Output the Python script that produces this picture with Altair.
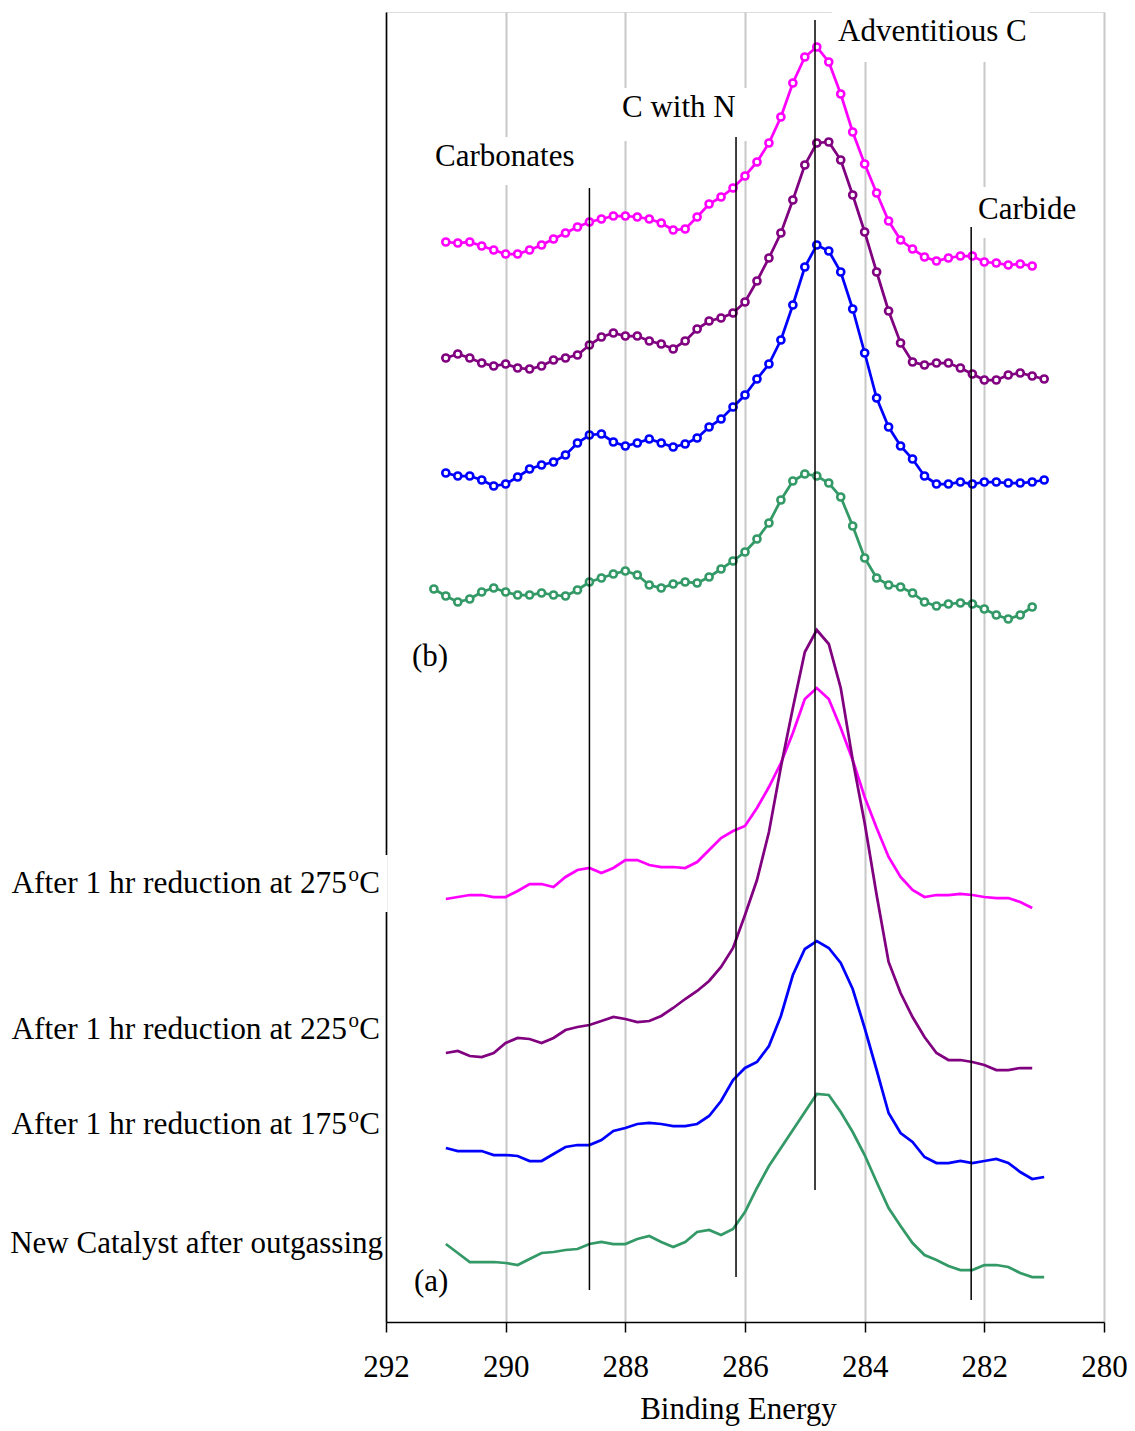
import altair as alt
import pandas as pd

# ---------------- data (intensity in arbitrary units) ----------------
STEP = 0.2  # eV spacing of the measured points

# (b) spectra - with open-circle markers
b_275_start = 291.0
b_275 = [1080, 1079, 1080, 1076, 1072, 1068, 1068, 1072, 1077, 1083,
         1089, 1095, 1100, 1103, 1106, 1106, 1105, 1103, 1099, 1092,
         1093, 1105, 1118, 1125, 1134, 1146, 1160, 1179, 1205, 1239,
         1265, 1275, 1260, 1228, 1190, 1158, 1129, 1101, 1082, 1073,
         1065, 1061, 1064, 1066, 1066, 1060, 1059, 1057, 1058, 1056]
b_225_start = 291.0
b_225 = [964, 968, 964, 959, 956, 958, 954, 953, 956, 962,
         964, 967, 977, 985, 989, 986, 986, 981, 978, 973,
         981, 993, 1001, 1004, 1009, 1020, 1041, 1064, 1089, 1122,
         1157, 1179, 1180, 1162, 1127, 1090, 1050, 1011, 979, 960,
         957, 959, 959, 954, 948, 942, 942, 947, 949, 946, 943]
b_175_start = 291.0
b_175 = [849, 846, 846, 842, 836, 838, 845, 853, 857, 860,
         867, 879, 887, 888, 880, 876, 879, 883, 879, 875,
         878, 884, 895, 903, 915, 927, 943, 958, 982, 1017,
         1055, 1077, 1071, 1050, 1013, 969, 924, 895, 876, 863,
         846, 838, 838, 840, 838, 840, 840, 839, 839, 840, 842]
b_new_start = 291.2
b_new = [733, 726, 720, 723, 730, 734, 730, 727, 727, 729,
         727, 726, 732, 740, 744, 748, 751, 747, 737, 734,
         738, 740, 739, 745, 753, 761, 770, 783, 799, 822,
         841, 848, 846, 839, 825, 796, 764, 744, 737, 735,
         729, 720, 716, 718, 719, 718, 713, 707, 703, 707, 715]

# (a) spectra - plain lines
a_275_start = 291.0
a_275 = [423, 425, 427, 427, 425, 425, 431, 438, 438, 435,
         445, 452, 454, 449, 454, 462, 462, 457, 455, 455,
         454, 460, 472, 484, 491, 496, 514, 535, 559, 589,
         623, 634, 623, 594, 562, 525, 494, 465, 445, 432,
         425, 427, 427, 428, 427, 425, 424, 424, 420, 414]
a_225_start = 291.0
a_225 = [269, 271, 266, 265, 269, 279, 284, 283, 279, 284,
         292, 295, 297, 301, 305, 303, 300, 301, 306, 314,
         323, 331, 341, 355, 374, 407, 442, 490, 555, 614,
         670, 692, 678, 634, 562, 499, 427, 360, 329, 305,
         285, 269, 262, 262, 260, 257, 252, 252, 254, 254]
a_175_start = 291.0
a_175 = [174, 171, 171, 171, 167, 167, 166, 161, 161, 168,
         175, 177, 177, 182, 191, 194, 198, 199, 198, 196,
         196, 198, 206, 221, 242, 254, 260, 276, 306, 347,
         373, 381, 374, 359, 333, 294, 252, 209, 189, 180,
         165, 159, 159, 161, 159, 161, 163, 159, 150, 143, 145]
a_new_start = 291.0
a_new = [78, 69, 60, 60, 60, 59, 57, 63, 69, 70,
         72, 73, 78, 80, 78, 78, 83, 86, 80, 75,
         80, 90, 92, 87, 93, 110, 134, 156, 174, 192,
         210, 228, 227, 210, 190, 167, 140, 114, 96, 79,
         67, 62, 56, 52, 52, 57, 57, 55, 49, 45, 45]

series_names = ["275", "225", "175", "new"]
series_colors = ["#FF00FF", "#800080", "#0000FF", "#339966"]

# reference lines (energy, lower intensity, upper intensity)
ref_energy = [288.6, 286.15, 284.83, 282.22]
ref_low = [32, 45, 132, 22]
ref_high = [1134, 1185, 1302, 1095]

# annotations
ann_text = ["Adventitious C", "C with N", "Carbonates", "Carbide", "(b)", "(a)"]
ann_energy = [284.445, 288.056, 291.18, 282.105, 291.565, 291.532]
ann_level = [1290, 1214, 1165, 1112, 665, 40]

# white label boxes (energy from/to, intensity from/to)
box_e1 = [284.55, 288.22, 291.35, 282.16, 292.35]
box_e2 = [281.24, 285.88, 288.72, 280.32, 291.97]
box_i1 = [1315, 1234, 1185, 1135, 467]
box_i2 = [1260, 1181, 1137, 1084, 410]

# left-hand sample labels
left_main = ["After 1 hr reduction at 275", "After 1 hr reduction at 225",
             "After 1 hr reduction at 175"]
left_level = [438, 292, 197]
new_label = "New Catalyst after outgassing"
new_level = 78

x_ticks = [292, 290, 288, 286, 284, 282, 280]

# ---------------- build tables ----------------
def to_rows(start, vals, name, panel):
    return [{"energy": round(start - i * STEP, 2), "intensity": v,
             "series": name, "panel": panel} for i, v in enumerate(vals)]

rows_b = (to_rows(b_275_start, b_275, "275", "b") + to_rows(b_225_start, b_225, "225", "b")
          + to_rows(b_175_start, b_175, "175", "b") + to_rows(b_new_start, b_new, "new", "b"))
rows_a = (to_rows(a_275_start, a_275, "275", "a") + to_rows(a_225_start, a_225, "225", "a")
          + to_rows(a_175_start, a_175, "175", "a") + to_rows(a_new_start, a_new, "new", "a"))
df_a = pd.DataFrame(rows_a)
df_b = pd.DataFrame(rows_b)

df_ref = pd.DataFrame({"energy": ref_energy, "lo": ref_low, "hi": ref_high})
df_ann = pd.DataFrame({"energy": ann_energy, "level": ann_level, "text": ann_text})
df_box = pd.DataFrame({"e1": box_e1, "e2": box_e2, "i1": box_i1, "i2": box_i2})
df_left = pd.DataFrame({"energy": [292.1] * 3, "level": left_level, "text": left_main})
df_new = pd.DataFrame({"energy": [292.05], "level": [new_level], "text": [new_label]})

FONT = "Liberation Serif"
FS = 31

xscale = alt.Scale(domain=[280, 292], reverse=True, nice=False, zero=False)
yscale = alt.Scale(domain=[0, 1310], nice=False, zero=False)
xaxis = alt.Axis(values=x_ticks, title="Binding Energy", grid=True, gridColor="#C8C8C8",
                 gridWidth=2, domainColor="black", domainWidth=1.5, tickColor="black",
                 tickSize=10, tickWidth=1.5, labelFont=FONT, labelFontSize=FS,
                 labelColor="black", labelPadding=20, labelFlush=False, labelOverlap=False,
                 format="d", titleFont=FONT, titleFontSize=FS, titleFontWeight="normal",
                 titleColor="black", titlePadding=12, titleX=352)
yaxis = alt.Axis(title=None, labels=False, ticks=False, grid=False, domainColor="black",
                 domainWidth=1.5)


def X(field):
    return alt.X(field, type="quantitative", scale=xscale, axis=xaxis)


def Y(field):
    return alt.Y(field, type="quantitative", scale=yscale, axis=yaxis)


color = alt.Color("series:N", scale=alt.Scale(domain=series_names, range=series_colors),
                  legend=None)

boxes = alt.Chart(df_box).mark_rect(fill="white").encode(
    x=X("e1"), x2="e2", y=Y("i1"), y2="i2")

lines_a = alt.Chart(df_a).mark_line(strokeWidth=2.75).encode(
    x=X("energy"), y=Y("intensity"), color=color, detail="series:N")

lines_b = alt.Chart(df_b).mark_line(
    strokeWidth=2.75,
    point=alt.OverlayMarkDef(filled=False, fill="white", size=50, strokeWidth=2.6),
).encode(x=X("energy"), y=Y("intensity"), color=color, detail="series:N")

rules = alt.Chart(df_ref).mark_rule(color="black", strokeWidth=1.5).encode(
    x=X("energy"), y=Y("lo"), y2="hi")

ann = alt.Chart(df_ann).mark_text(align="left", baseline="middle", font=FONT,
                                  fontSize=FS, color="black").encode(
    x=X("energy"), y=Y("level"), text="text:N")

C_W = 22   # width of "C"
O_W = 11   # width of superscript "o"
left_c = alt.Chart(df_left).mark_text(align="right", baseline="middle", font=FONT,
                                      fontSize=FS, color="black").encode(
    x=X("energy"), y=Y("level"), text=alt.value("C"))
left_o = alt.Chart(df_left).mark_text(align="right", baseline="middle", font=FONT,
                                      fontSize=21, color="black", dx=-C_W + 1, dy=-9).encode(
    x=X("energy"), y=Y("level"), text=alt.value("o"))
left_t = alt.Chart(df_left).mark_text(align="right", baseline="middle", font=FONT,
                                      fontSize=31.4, color="black", dx=-(C_W + O_W)).encode(
    x=X("energy"), y=Y("level"), text="text:N")
new_t = alt.Chart(df_new).mark_text(align="right", baseline="middle", font=FONT,
                                    fontSize=FS, color="black").encode(
    x=X("energy"), y=Y("level"), text="text:N")

chart = alt.layer(boxes, lines_a, lines_b, rules, ann, left_c, left_o, left_t, new_t).properties(
    width=718, height=1310,
    autosize=alt.AutoSizeParams(type="none"),
    padding={"left": 378, "top": 4, "right": 23, "bottom": 110},
).configure_view(strokeWidth=0).configure(background="white")

chart.save("out.html", embed_options={"renderer": "svg", "actions": False})
